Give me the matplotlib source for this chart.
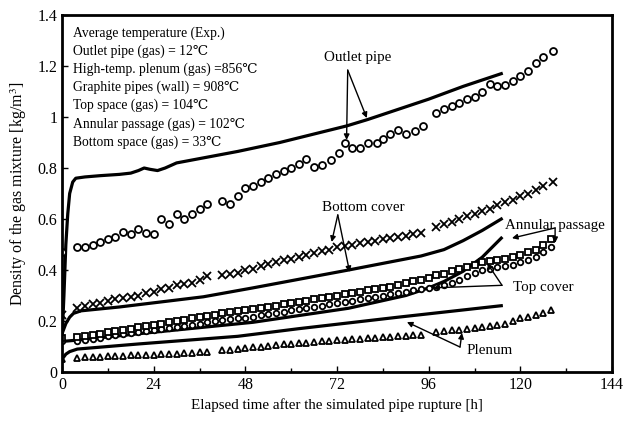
import matplotlib
matplotlib.use('Agg')
import matplotlib.pyplot as plt

plt.rcParams['font.family'] = ['Liberation Serif', 'DejaVu Serif']
plt.rcParams['mathtext.fontset'] = 'stix'

# --- calculated curves (solid lines) ---
t_outlet_calc = [0, 0.5, 1, 1.5, 2, 2.8, 3.6, 6, 10, 15, 18, 20, 21.5, 23, 25, 27, 28.5, 30, 46, 57, 74.5, 80, 96, 105, 115]
v_outlet_calc = [0.13, 0.3, 0.5, 0.62, 0.7, 0.745, 0.76, 0.765, 0.77, 0.775, 0.78, 0.79, 0.8, 0.795, 0.79, 0.8, 0.81, 0.82, 0.865, 0.9, 0.965, 0.99, 1.07, 1.12, 1.17]

t_bottom_calc = [0, 1, 2, 3, 5, 15, 37, 50, 75, 94, 100, 105, 110, 115]
v_bottom_calc = [0.15, 0.19, 0.215, 0.23, 0.24, 0.255, 0.295, 0.33, 0.4, 0.455, 0.48, 0.515, 0.555, 0.6]

t_annular_calc = [0, 4, 20, 50, 75, 90, 96, 100, 105, 110, 115]
v_annular_calc = [0.12, 0.125, 0.15, 0.195, 0.25, 0.3, 0.33, 0.355, 0.395, 0.45, 0.525]

t_plenum_calc = [0, 1, 2, 4, 20, 46, 62, 88, 100, 115]
v_plenum_calc = [0.05, 0.07, 0.08, 0.09, 0.11, 0.14, 0.17, 0.215, 0.235, 0.26]

# --- experimental data (markers) ---
t_outlet_exp = [0, 4, 6, 8, 10, 12, 14, 16, 18, 20, 22, 24, 26, 28, 30, 32, 34, 36, 38,
                42, 44, 46, 48, 50, 52, 54, 56, 58, 60, 62, 64, 66, 68, 70.5, 72.5, 74, 76, 78, 80,
                82.4, 84, 86, 88, 90, 92.4, 94.5,
                98, 100, 102, 104, 106, 108, 110, 112, 114, 116, 118, 120, 122, 124, 126, 128.5]
v_outlet_exp = [0.47, 0.49, 0.49, 0.5, 0.51, 0.52, 0.53, 0.55, 0.54, 0.56, 0.545, 0.54, 0.6, 0.58, 0.62, 0.6, 0.62, 0.64, 0.66,
                0.67, 0.66, 0.69, 0.72, 0.73, 0.745, 0.76, 0.775, 0.79, 0.8, 0.815, 0.835, 0.805, 0.81, 0.83, 0.86, 0.9, 0.88, 0.88, 0.9,
                0.9, 0.915, 0.935, 0.95, 0.935, 0.945, 0.965,
                1.015, 1.03, 1.045, 1.055, 1.07, 1.08, 1.1, 1.13, 1.12, 1.125, 1.14, 1.16, 1.18, 1.21, 1.235, 1.26]

t_bottom_exp = [0, 4, 6, 8, 10, 12, 14, 16, 18, 20, 22, 24, 26, 28, 30, 32, 34, 36, 38,
                42, 44, 46, 48, 50, 52, 54, 56, 58, 60, 62, 64, 66, 68, 70, 72, 74, 76, 78, 80,
                82, 84, 86, 88, 90, 92, 94,
                98, 100, 102, 104, 106, 108, 110, 112, 114, 116, 118, 120, 122, 124, 126, 128.5]
v_bottom_exp = [0.225, 0.25, 0.26, 0.265, 0.27, 0.28, 0.285, 0.29, 0.295, 0.3, 0.31, 0.315, 0.325, 0.33, 0.34, 0.345, 0.35, 0.36, 0.375,
                0.38, 0.385, 0.39, 0.4, 0.405, 0.415, 0.425, 0.43, 0.44, 0.445, 0.45, 0.46, 0.465, 0.475, 0.48, 0.49, 0.495, 0.5, 0.505, 0.51,
                0.515, 0.52, 0.525, 0.53, 0.535, 0.54, 0.545,
                0.57, 0.58, 0.59, 0.6, 0.61, 0.62, 0.63, 0.64, 0.655, 0.665, 0.675, 0.69, 0.7, 0.715, 0.73, 0.745]

t_band = [0, 4, 6, 8, 10, 12, 14, 16, 18, 20, 22, 24, 26, 28, 30, 32, 34, 36, 38, 40, 42, 44, 46, 48, 50,
          52, 54, 56, 58, 60, 62, 64, 66, 68, 70, 72, 74, 76, 78, 80, 82, 84, 86, 88, 90, 92, 94, 96, 98, 100,
          102, 104, 106, 108, 110, 112, 114, 116, 118, 120, 122, 124, 126, 128]
v_annular_exp = [0.135, 0.137, 0.14, 0.145, 0.15, 0.155, 0.16, 0.165, 0.17, 0.175, 0.18, 0.185, 0.19, 0.195, 0.2, 0.205, 0.21, 0.215, 0.22, 0.225, 0.23, 0.235, 0.24, 0.243, 0.247,
                 0.25, 0.255, 0.26, 0.265, 0.27, 0.275, 0.28, 0.285, 0.29, 0.295, 0.3, 0.305, 0.31, 0.315, 0.32, 0.325, 0.33, 0.335, 0.34, 0.35, 0.355, 0.36, 0.37, 0.38, 0.385,
                 0.395, 0.405, 0.41, 0.42, 0.43, 0.435, 0.44, 0.445, 0.45, 0.46, 0.47, 0.48, 0.5, 0.52]
v_topcover_exp = [0.12, 0.12, 0.125, 0.13, 0.135, 0.14, 0.145, 0.148, 0.152, 0.156, 0.16, 0.164, 0.168, 0.172, 0.176, 0.18, 0.185, 0.19, 0.195, 0.2, 0.204, 0.207, 0.21, 0.213, 0.217,
                  0.222, 0.227, 0.232, 0.237, 0.242, 0.247, 0.252, 0.256, 0.26, 0.265, 0.27, 0.275, 0.28, 0.285, 0.29, 0.295, 0.3, 0.305, 0.31, 0.315, 0.32, 0.325, 0.33, 0.335, 0.34,
                  0.35, 0.36, 0.375, 0.39, 0.4, 0.405, 0.41, 0.415, 0.42, 0.43, 0.44, 0.45, 0.47, 0.49]

t_plenum_exp = [0, 4, 6, 8, 10, 12, 14, 16, 18, 20, 22, 24, 26, 28, 30, 32, 34, 36, 38,
                42, 44, 46, 48, 50, 52, 54, 56, 58, 60, 62, 64, 66, 68, 70, 72, 74, 76, 78, 80,
                82, 84, 86, 88, 90, 92, 94,
                98, 100, 102, 104, 106, 108, 110, 112, 114, 116, 118, 120, 122, 124, 126, 128]
v_plenum_exp = [0.05, 0.055, 0.057, 0.058, 0.06, 0.061, 0.062, 0.063, 0.065, 0.066, 0.067, 0.068, 0.07, 0.071, 0.072, 0.074, 0.075, 0.077, 0.078,
                0.085, 0.088, 0.092, 0.095, 0.098, 0.1, 0.103, 0.105, 0.108, 0.11, 0.113, 0.115, 0.118, 0.12, 0.122, 0.124, 0.126, 0.128, 0.13, 0.132,
                0.134, 0.136, 0.138, 0.14, 0.142, 0.144, 0.146,
                0.157, 0.16, 0.163, 0.166, 0.17, 0.174, 0.178, 0.182, 0.186, 0.19, 0.2, 0.21, 0.215, 0.222, 0.23, 0.243]

x_ticks = [0, 24, 48, 72, 96, 120, 144]
y_ticks = [0, 0.2, 0.4, 0.6, 0.8, 1.0, 1.2, 1.4]
y_ticklabels = ['0', '0.2', '0.4', '0.6', '0.8', '1', '1.2', '1.4']

info_lines = ['Average temperature (Exp.)',
              'Outlet pipe (gas) = 12\u2103',
              'High-temp. plenum (gas) =856\u2103',
              'Graphite pipes (wall) = 908\u2103',
              'Top space (gas) = 104\u2103',
              'Annular passage (gas) = 102\u2103',
              'Bottom space (gas) = 33\u2103']

fig = plt.figure(figsize=(6.24, 4.24), dpi=100)
ax = fig.add_axes([0.0994, 0.1226, 0.8814, 0.842])

lw = 2.3
ax.plot(t_outlet_calc, v_outlet_calc, 'k-', lw=lw)
ax.plot(t_bottom_calc, v_bottom_calc, 'k-', lw=lw)
ax.plot(t_annular_calc, v_annular_calc, 'k-', lw=lw)
ax.plot(t_plenum_calc, v_plenum_calc, 'k-', lw=lw)

mk = dict(ls='none', mfc='white', mec='black', mew=1.3)
ax.plot(t_outlet_exp, v_outlet_exp, marker='o', ms=5, **mk)
ax.plot(t_bottom_exp, v_bottom_exp, marker='x', ms=5.5, **mk)
ax.plot(t_band, v_topcover_exp, marker='o', ms=4, **mk)
ax.plot(t_band, v_annular_exp, marker='s', ms=4.5, **mk)
ax.plot(t_plenum_exp, v_plenum_exp, marker='^', ms=4.5, **mk)

ax.set_xlim(0, 144)
ax.set_ylim(0, 1.4)
ax.set_xticks(x_ticks)
ax.set_xticks(range(0, 145, 12), minor=True)
ax.set_yticks(y_ticks)
ax.set_yticklabels(y_ticklabels)
ax.tick_params(direction='in', length=4, width=1, labelsize=11.5)
ax.tick_params(which='minor', direction='in', length=3, width=1)
for s in ax.spines.values():
    s.set_linewidth(2)

ax.set_xlabel('Elapsed time after the simulated pipe rupture [h]', fontsize=10.8)
ax.set_ylabel('Density of the gas mixture [kg/m$^3$]', fontsize=11.5, labelpad=6)

for i, line in enumerate(info_lines):
    ax.text(0.02, 0.95 - i * 0.051, line, transform=ax.transAxes, fontsize=9.8, va='center', ha='left')

ap = dict(arrowstyle='-|>', color='black', lw=1, mutation_scale=8, shrinkA=0, shrinkB=0)

ax.text(77.4, 1.235, 'Outlet pipe', fontsize=10.8, ha='center', va='center')
ax.annotate('', xy=(74.5, 0.91), xytext=(74.8, 1.184), arrowprops=ap)
ax.annotate('', xy=(79.8, 0.996), xytext=(74.8, 1.184), arrowprops=ap)

ax.text(79, 0.647, 'Bottom cover', fontsize=10.8, ha='center', va='center')
ax.annotate('', xy=(70.6, 0.51), xytext=(72.2, 0.616), arrowprops=ap)
ax.annotate('', xy=(75.3, 0.392), xytext=(72.2, 0.616), arrowprops=ap)

ax.text(116, 0.576, 'Annular passage', fontsize=10.8, ha='left', va='center', clip_on=False)
ax.annotate('', xy=(117.8, 0.525), xytext=(129.1, 0.565), arrowprops=ap)
ax.annotate('', xy=(129.1, 0.506), xytext=(129.1, 0.565), arrowprops=ap)

ax.text(118, 0.33, 'Top cover', fontsize=10.8, ha='left', va='center')
ax.annotate('', xy=(111.3, 0.427), xytext=(115.2, 0.34), arrowprops=ap)
ax.annotate('', xy=(97.1, 0.33), xytext=(115.2, 0.34), arrowprops=ap)

ax.text(106, 0.086, 'Plenum', fontsize=10.8, ha='left', va='center')
ax.annotate('', xy=(90.3, 0.196), xytext=(104.2, 0.098), arrowprops=ap)
ax.annotate('', xy=(104.7, 0.153), xytext=(104.2, 0.098), arrowprops=ap)

fig.savefig('out.png', dpi=100)
